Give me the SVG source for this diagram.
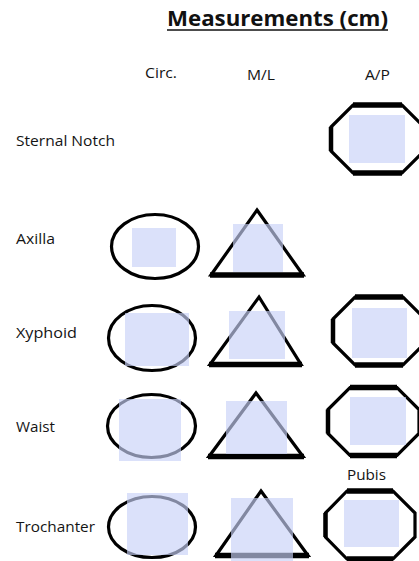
<svg xmlns="http://www.w3.org/2000/svg" width="419" height="561" viewBox="0 0 419 561">
<style>
  .lbl { font-family: "Open Sans", "Noto Sans", sans-serif; font-size: 15px; fill: #141414; }
  .hdr { font-family: "Open Sans", "Noto Sans", sans-serif; font-size: 14.5px; fill: #141414; }
  .title { font-family: "Open Sans", "Noto Sans", sans-serif; font-size: 22px; font-weight: bold; fill: #111; }
  .shape { fill: none; stroke: #000; stroke-width: 3.2; stroke-linejoin: miter; }
  .thick { fill: none; stroke: #000; stroke-width: 5.5; stroke-linecap: butt; }
  .mid { fill: none; stroke: #000; stroke-width: 4.5; }
  .box { fill: #c7d1f8; fill-opacity: 0.65; }
</style>
<rect width="419" height="561" fill="#fff"/>

<g id="title">
  <text class="title" x="167" y="26" textLength="221" lengthAdjust="spacingAndGlyphs">Measurements (cm)</text>
  <line x1="167" y1="30" x2="388" y2="30" stroke="#111" stroke-width="1.6"/>
</g>

<g id="headers">
  <text class="hdr" x="145" y="78" textLength="32" lengthAdjust="spacingAndGlyphs">Circ.</text>
  <text class="hdr" x="247" y="80" textLength="28" lengthAdjust="spacingAndGlyphs">M/L</text>
  <text class="hdr" x="365" y="80" textLength="25" lengthAdjust="spacingAndGlyphs">A/P</text>
</g>

<g id="labels">
  <text class="lbl" x="16" y="146" textLength="99" lengthAdjust="spacingAndGlyphs">Sternal Notch</text>
  <text class="lbl" x="16" y="244" textLength="39" lengthAdjust="spacingAndGlyphs">Axilla</text>
  <text class="lbl" x="16" y="338" textLength="61" lengthAdjust="spacingAndGlyphs">Xyphoid</text>
  <text class="lbl" x="16" y="432" textLength="39" lengthAdjust="spacingAndGlyphs">Waist</text>
  <text class="lbl" x="16" y="532" textLength="79" lengthAdjust="spacingAndGlyphs">Trochanter</text>
  <text class="lbl" x="347" y="480" textLength="39" lengthAdjust="spacingAndGlyphs">Pubis</text>
</g>

<g id="connectors"></g>

<!-- Sternal Notch A/P -->
<g id="sternal-ap">
  <polygon class="shape" points="353,105 402,105 424,127 424,151 402,173 353,173 331,151 331,127"/>
  <line class="thick" x1="353" y1="105" x2="402" y2="105"/>
  <line class="thick" x1="353" y1="173" x2="402" y2="173"/>
  <line class="mid" x1="331" y1="127" x2="331" y2="151"/>
  <rect class="box" x="349" y="115" width="56" height="48"/>
</g>

<!-- Axilla -->
<g id="axilla-circ">
  <ellipse class="shape" cx="155" cy="246.5" rx="43.5" ry="32"/>
  <rect class="box" x="132" y="228" width="44" height="39"/>
</g>
<g id="axilla-ml">
  <polygon class="shape" points="257,210 303,275 211,275"/>
  <line class="thick" x1="210" y1="275" x2="304" y2="275"/>
  <rect class="box" x="233" y="224" width="50" height="48"/>
</g>

<!-- Xyphoid -->
<g id="xyphoid-circ">
  <ellipse class="shape" cx="152" cy="338" rx="43.5" ry="32.5"/>
  <rect class="box" x="125" y="313" width="64" height="53"/>
</g>
<g id="xyphoid-ml">
  <polygon class="shape" points="259,297 301,364.5 210,364.5"/>
  <line class="thick" x1="209" y1="364.5" x2="302" y2="364.5"/>
  <rect class="box" x="229" y="311" width="56" height="48"/>
</g>
<g id="xyphoid-ap">
  <polygon class="shape" points="355,297 403,297 425,319 425,343 403,365 355,365 333,343 333,319"/>
  <line class="thick" x1="355" y1="297" x2="403" y2="297"/>
  <line class="thick" x1="355" y1="365" x2="403" y2="365"/>
  <line class="mid" x1="333" y1="319" x2="333" y2="343"/>
  <rect class="box" x="352" y="308" width="55" height="50"/>
</g>

<!-- Waist -->
<g id="waist-circ">
  <ellipse class="shape" cx="151.5" cy="426" rx="44" ry="31.5"/>
  <rect class="box" x="119" y="399" width="62" height="62"/>
</g>
<g id="waist-ml">
  <polygon class="shape" points="256,393 303,456.5 209,456.5"/>
  <line class="thick" x1="208" y1="456.5" x2="304" y2="456.5"/>
  <rect class="box" x="226" y="401" width="61" height="53"/>
</g>
<g id="waist-ap">
  <polygon class="shape" points="350,387.5 397,387.5 419,409.5 419,433.5 397,455.5 350,455.5 328,433.5 328,409.5"/>
  <line class="thick" x1="350" y1="387.5" x2="397" y2="387.5"/>
  <line class="thick" x1="350" y1="455.5" x2="397" y2="455.5"/>
  <line class="mid" x1="328" y1="409.5" x2="328" y2="433.5"/>
  <rect class="box" x="350" y="397" width="56" height="48"/>
</g>

<!-- Trochanter -->
<g id="trochanter-circ">
  <ellipse class="shape" cx="152" cy="527" rx="43.5" ry="30.5"/>
  <rect class="box" x="127" y="493" width="61" height="62"/>
</g>
<g id="trochanter-ml">
  <polygon class="shape" points="261,491 308,555.5 216,555.5"/>
  <line class="thick" x1="215" y1="555.5" x2="309" y2="555.5"/>
  <rect class="box" x="231" y="498" width="62" height="63"/>
</g>
<g id="pubis-ap">
  <polygon class="shape" points="347,491 393,491 415,513 415,537 393,559 347,559 325.5,537 325.5,513"/>
  <line class="thick" x1="347" y1="491" x2="393" y2="491"/>
  <line class="thick" x1="347" y1="559" x2="393" y2="559"/>
  <line class="mid" x1="325.5" y1="513" x2="325.5" y2="537"/>
  <rect class="box" x="344" y="500" width="55" height="47"/>
</g>
</svg>
